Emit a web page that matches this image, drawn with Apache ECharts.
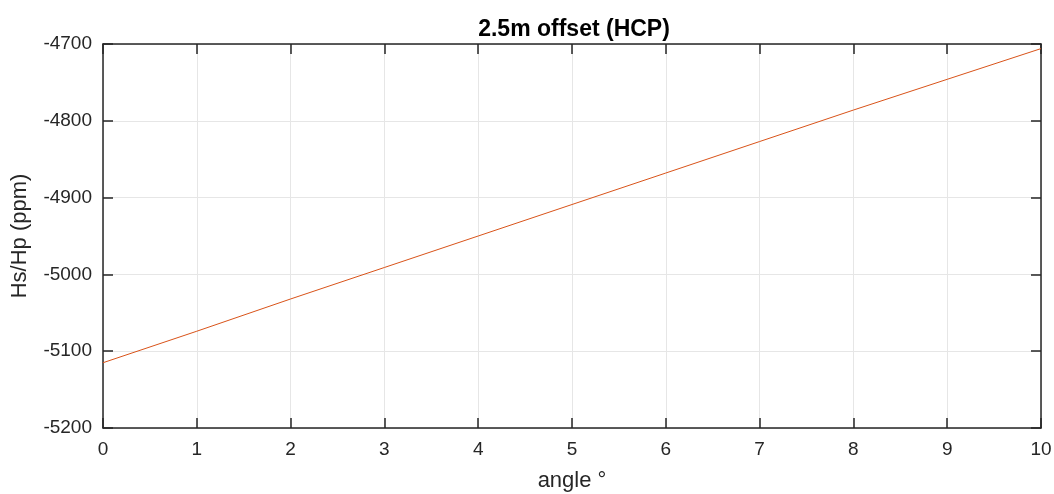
<!DOCTYPE html>
<html>
<head>
<meta charset="utf-8">
<script src="https://cdn.jsdelivr.net/npm/echarts@6/dist/echarts.min.js"></script>
<style>html,body{margin:0;padding:0;background:#fff;}#c{width:1054px;height:494px;}</style>
</head>
<body>
<div id="c"></div>
<script>
var angles = [0, 1, 2, 3, 4, 5, 6, 7, 8, 9, 10];
var hsHp = [-5115, -5074, -5032, -4991, -4950, -4909, -4868, -4827, -4786, -4746, -4706];
var titleText = '2.5m offset (HCP)';
var xName = 'angle °';
var yName = 'Hs/Hp (ppm)';

var axisColor = '#262626';
var font = 'Liberation Sans, Arial, Helvetica, sans-serif';
var data = angles.map(function (a, i) { return [a, hsHp[i]]; });
function plain(v) { return String(v); }

var chart = echarts.init(document.getElementById('c'), null, {renderer: 'canvas'});
var baseAxis = {
  axisLine: {show: true, onZero: false, lineStyle: {color: axisColor, width: 1.5}},
  axisTick: {show: true, inside: true, length: 10, lineStyle: {color: axisColor, width: 1.5}},
  splitLine: {show: false}
};
chart.setOption({
  animation: false,
  backgroundColor: '#ffffff',
  title: {
    text: titleText, left: 569, top: 13, textAlign: 'center',
    textStyle: {fontFamily: font, fontWeight: 'bold', fontSize: 23, color: '#000'}
  },
  grid: {left: 103, right: 13, top: 44, bottom: 66, containLabel: false, outerBoundsMode: 'none'},
  xAxis: [
    Object.assign({}, baseAxis, {
      type: 'value', min: 0, max: 10, interval: 1, position: 'bottom',
      name: xName, nameLocation: 'middle', nameGap: 42,
      nameTextStyle: {fontFamily: font, fontSize: 22, color: axisColor},
      axisLabel: {fontFamily: font, fontSize: 19, color: axisColor, margin: 12, formatter: plain},
      splitLine: {show: true, lineStyle: {color: '#e6e6e6', width: 1}}
    }),
    Object.assign({}, baseAxis, {
      type: 'value', min: 0, max: 10, interval: 1, position: 'top',
      axisLabel: {show: false}
    })
  ],
  yAxis: [
    Object.assign({}, baseAxis, {
      type: 'value', min: -5200, max: -4700, interval: 100, position: 'left',
      name: yName, nameLocation: 'middle', nameGap: 72,
      nameTextStyle: {fontFamily: font, fontSize: 22, color: axisColor},
      axisLabel: {fontFamily: font, fontSize: 19, color: axisColor, margin: 11, formatter: plain},
      splitLine: {show: true, lineStyle: {color: '#e6e6e6', width: 1}}
    }),
    Object.assign({}, baseAxis, {
      type: 'value', min: -5200, max: -4700, interval: 100, position: 'right',
      axisLabel: {show: false}
    })
  ],
  series: [{
    type: 'line', data: data, xAxisIndex: 0, yAxisIndex: 0,
    showSymbol: false, symbol: 'none',
    lineStyle: {color: '#D95319', width: 1}
  }]
});
</script>
</body>
</html>
